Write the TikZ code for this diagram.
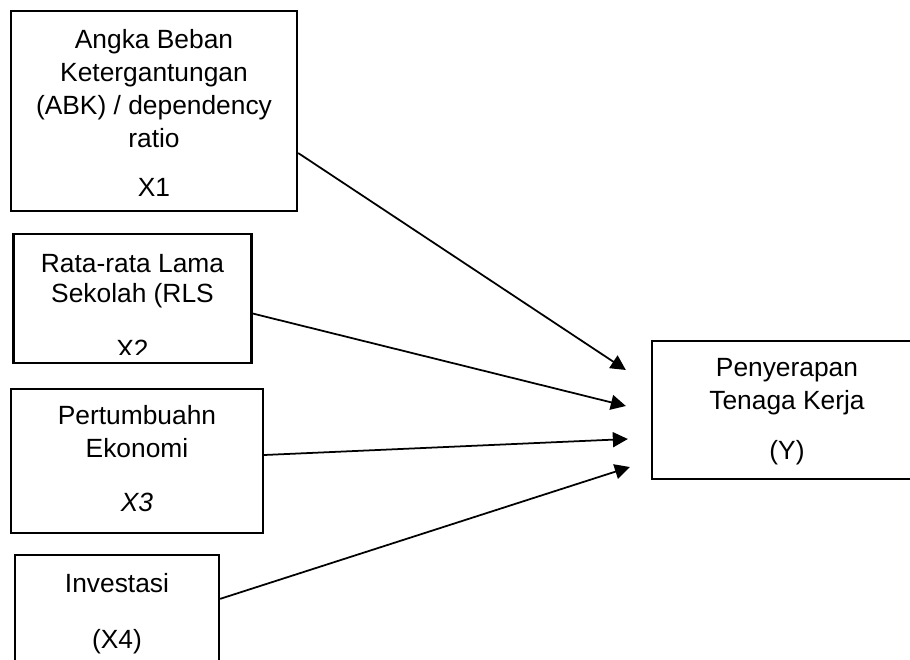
\documentclass[tikz,border=0pt]{standalone}
\usepackage{fontspec}
\setmainfont{Liberation Sans}
\usetikzlibrary{arrows.meta, positioning}

\begin{document}
\begin{tikzpicture}[->, >={Triangle[length=0.3cm, width=0.3cm]}, line width=1pt,
		box/.style={draw, line width=1.3pt, inner sep=0pt},
		txt/.style={align=center, inner sep=0pt, font=\fontsize{15pt}{18.8pt}\selectfont}]
		\useasboundingbox (0, 0) rectangle (18.2, 13.18);
		\clip (0, 0) rectangle (18.2, 13.18);

		\node[box, minimum width=5.72cm, minimum height=4cm]		(b1) at (3.08, 10.96) {};
		\node[box, minimum width=4.76cm, minimum height=2.58cm]	(b2) at (2.65, 7.21) {};
		\node[box, minimum width=5.04cm, minimum height=2.88cm]	(b3) at (2.74, 3.96) {};
		\node[box, minimum width=4.08cm, minimum height=2.5cm]	(b4) at (2.34, 0.83) {};
		\node[box, minimum width=5.4cm, minimum height=2.76cm]	(y) at (15.74, 4.98) {};

		\node[txt, below=0.38cm of b1.north]	(t1) {Angka Beban\\Ketergantungan\\(ABK) / dependency\\ratio\\[9.1pt]X1};
		\begin{scope}
			\clip (b2.north west) rectangle ([yshift=0.2cm]b2.south east);
			\node[txt, below=0.42cm of b2.north]	(t2) {Rata-rata Lama\\[-1.7pt]Sekolah (RLS\\[13.1pt]X2};
		\end{scope}
		\node[txt, below=0.34cm of b3.north]	(t3) {Pertumbuahn\\Ekonomi\\[12pt]\textit{X3}};
		\node[txt, below=0.38cm of b4.north]	(t4) {Investasi\\[13.1pt](X4)};
		\node[txt, below=0.36cm of y.north]	(ty) {Penyerapan\\Tenaga Kerja\\[9.7pt](Y)};

		\path 	([yshift=-0.84cm]b1.east) edge ([xshift=-0.5cm, yshift=0.8cm]y.west)
				([yshift=-0.3cm]b2.east) edge ([xshift=-0.5cm, yshift=0.08cm]y.west)
				([yshift=0.12cm]b3.east) edge ([xshift=-0.46cm, yshift=-0.58cm]y.west)
				([yshift=-0.9cm]b4.north east) edge ([xshift=-0.42cm, yshift=-1.14cm]y.west);
	\end{tikzpicture}
\end{document}
